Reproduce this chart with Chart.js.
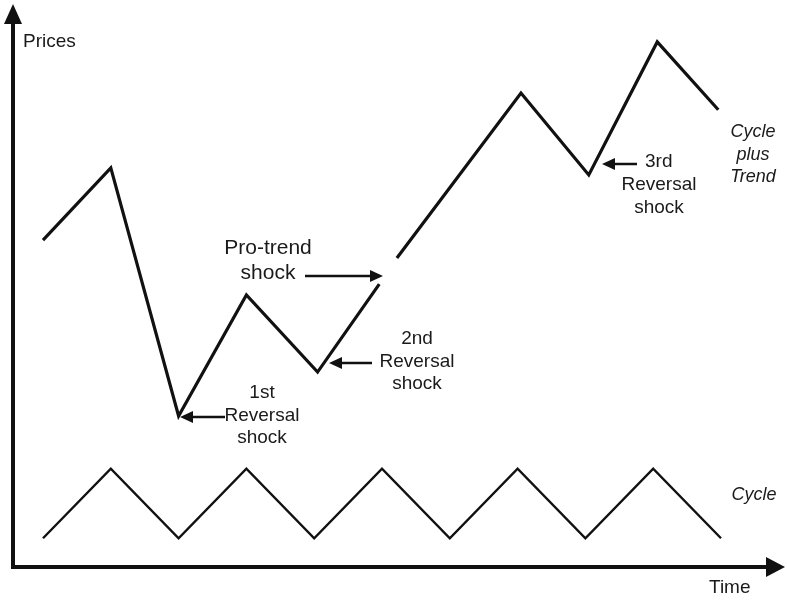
<!DOCTYPE html>
<html><head><meta charset="utf-8">
<script src="https://cdn.jsdelivr.net/npm/chart.js@4.4.1/dist/chart.umd.min.js"></script>
<style>html,body{margin:0;padding:0;background:#fff}#wrap{width:787px;height:601px}</style>
</head><body><div id="wrap"><canvas id="c" width="787" height="601"></canvas></div>
<script>
// Time periods (half-cycles) and prices
const cycleTime  = [0, 1, 2, 3, 4, 5, 6, 7, 8, 9, 10];
const cyclePrice = [5.3, 18.1, 5.3, 18.1, 5.3, 18.1, 5.3, 18.1, 5.3, 18.1, 5.3];
// Cycle plus trend (null = break where the pro-trend shock hits)
const trendTime  = [0, 1, 2, 3, 4.05, 4.96, 5.1, 5.22, 7.05, 8.05, 9.06, 9.96];
const trendPrice = [60.2, 73.5, 27.8, 50.1, 35.9, 52.1, null, 56.9, 87.3, 72.2, 96.7, 84.2];
const axisLabels = ['Prices', 'Time'];

const toXY = (xs, ys) => xs.map((x, i) => ({x: x, y: ys[i]}));
const INK = '#111';
const TXT = '#1a1a1a';

function arrowHead(ctx, tx, ty, dir, len, half) {
  ctx.beginPath();
  if (dir === 'left') { ctx.moveTo(tx, ty); ctx.lineTo(tx + len, ty - half); ctx.lineTo(tx + len, ty + half); }
  else if (dir === 'right') { ctx.moveTo(tx, ty); ctx.lineTo(tx - len, ty - half); ctx.lineTo(tx - len, ty + half); }
  else { ctx.moveTo(tx, ty); ctx.lineTo(tx - half, ty + len); ctx.lineTo(tx + half, ty + len); }
  ctx.closePath(); ctx.fill();
}
function hArrow(ctx, x1, x2, y, dir) {
  ctx.save();
  ctx.strokeStyle = INK; ctx.fillStyle = INK; ctx.lineWidth = 2.5;
  ctx.beginPath();
  if (dir === 'left') { ctx.moveTo(x2, y); ctx.lineTo(x1 + 10, y); }
  else { ctx.moveTo(x1, y); ctx.lineTo(x2 - 10, y); }
  ctx.stroke();
  if (dir === 'left') arrowHead(ctx, x1, y, 'left', 13, 6);
  else arrowHead(ctx, x2, y, 'right', 13, 6);
  ctx.restore();
}
function lines(ctx, arr, x, y0, dy, font) {
  ctx.font = font;
  arr.forEach((s, i) => ctx.fillText(s, x, y0 + i * dy));
}

const decor = {
  id: 'decor',
  afterDraw(chart) {
    const ctx = chart.ctx, a = chart.chartArea;
    ctx.save();
    ctx.fillStyle = INK;
    arrowHead(ctx, a.left, 4, 'up', a.top - 4, 9);
    arrowHead(ctx, 785, a.bottom, 'right', 785 - a.right, 10);

    ctx.fillStyle = TXT;
    ctx.textBaseline = 'middle';
    ctx.textAlign = 'left';
    ctx.font = '19px "Liberation Sans", Arial, sans-serif';
    ctx.fillText(axisLabels[0], 23, 42);
    ctx.fillText(axisLabels[1], 709, 588);

    ctx.textAlign = 'center';
    const f19 = '19px "Liberation Sans", Arial, sans-serif';
    lines(ctx, ['Pro-trend', 'shock'], 268, 248, 25.5, '21px "Liberation Sans", Arial, sans-serif');
    lines(ctx, ['1st', 'Reversal', 'shock'], 262, 393, 22.5, f19);
    lines(ctx, ['2nd', 'Reversal', 'shock'], 417, 339, 22.5, f19);
    ctx.textAlign = 'left';
    ctx.font = f19; ctx.fillText('3rd', 645, 162);
    ctx.textAlign = 'center';
    lines(ctx, ['Reversal', 'shock'], 659, 185, 22.5, f19);
    const fi = 'italic 18px "Liberation Sans", Arial, sans-serif';
    lines(ctx, ['Cycle', 'plus', 'Trend'], 753, 132, 22.5, fi);
    lines(ctx, ['Cycle'], 754, 495, 0, fi);

    hArrow(ctx, 305, 383, 276, 'right');
    hArrow(ctx, 180, 225, 417, 'left');
    hArrow(ctx, 329, 372, 363, 'left');
    hArrow(ctx, 602, 637, 164, 'left');
    ctx.restore();
  }
};

new Chart(document.getElementById('c'), {
  type: 'line',
  data: {
    datasets: [
      { label: 'Cycle plus Trend', data: toXY(trendTime, trendPrice), borderColor: INK, borderWidth: 3.2,
        pointRadius: 0, spanGaps: false, tension: 0, borderJoinStyle: 'miter', borderCapStyle: 'butt', clip: false },
      { label: 'Cycle', data: toXY(cycleTime, cyclePrice), borderColor: INK, borderWidth: 2.4,
        pointRadius: 0, tension: 0, borderJoinStyle: 'miter', borderCapStyle: 'butt', clip: false }
    ]
  },
  options: {
    responsive: false, animation: false, devicePixelRatio: 1,
    layout: { padding: { left: 13, right: 787 - 766, top: 24, bottom: 601 - 567 } },
    plugins: { legend: { display: false }, tooltip: { enabled: false } },
    scales: {
      x: { type: 'linear', min: -0.4425, max: 10.664,
           ticks: { display: false }, grid: { display: false, drawTicks: false },
           border: { display: true, width: 4, color: INK },
           afterFit(s) { s.height = 0; } },
      y: { type: 'linear', min: 0, max: 100,
           ticks: { display: false }, grid: { display: false, drawTicks: false },
           border: { display: true, width: 4, color: INK },
           afterFit(s) { s.width = 0; } }
    }
  },
  plugins: [decor]
});
</script></body></html>
